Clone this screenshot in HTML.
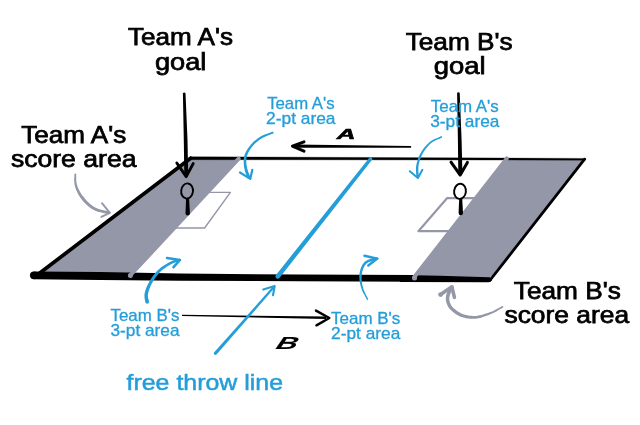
<!DOCTYPE html>
<html>
<head>
<meta charset="utf-8">
<title>Court diagram</title>
<style>
html,body{margin:0;padding:0;background:#fff;}
body{width:640px;height:425px;overflow:hidden;}
svg{display:block;}
text{font-family:"Liberation Sans",sans-serif;}
.k{fill:#000;stroke:#000;stroke-width:.75px;font-size:24.4px;text-anchor:middle;}
.b{fill:#249ed9;stroke:#249ed9;stroke-width:.3px;font-size:15.7px;text-anchor:middle;}
.ft{fill:#249ed9;stroke:#249ed9;stroke-width:.5px;font-size:22px;text-anchor:middle;}
.it{fill:#000;stroke:#000;stroke-width:.5px;font-weight:bold;font-style:italic;text-anchor:middle;}
.ba{fill:none;stroke:#249ed9;stroke-width:2.6;stroke-linecap:round;stroke-linejoin:round;}
.ga{fill:none;stroke:#9497a8;stroke-width:3.4;stroke-linecap:round;stroke-linejoin:round;}
.ka{fill:none;stroke:#000;stroke-width:3.3;stroke-linecap:round;stroke-linejoin:round;}
</style>
</head>
<body>
<svg style="will-change:transform" width="640" height="425" viewBox="0 0 640 425">
<rect width="640" height="425" fill="#ffffff"/>

<!-- goal boxes -->
<polygon points="205,192.4 230.4,192.4 204.6,228 170,228" fill="#fff" stroke="#9497a8" stroke-width="1.4" stroke-linejoin="round"/>
<polygon points="447,198.2 480,198.2 450,231.2 418.4,231.2" fill="#fff" stroke="#9497a8" stroke-width="2.2" stroke-linejoin="round"/>

<!-- bottom line (right part, under grey) -->
<path d="M400,275 L489,275 L491.8,280.6 Q491,282.3 488.5,282.3 L400,281.9 Z" fill="#000"/>

<!-- score areas -->
<polygon points="191,158 238.8,158.3 130.5,275.3 40,274" fill="#9497a8"/>
<polygon points="507,158.5 585,159 492.3,276.3 489.5,277.2 440,275.8 414.5,275.3" fill="#9497a8"/>

<!-- court outline -->
<path d="M190,156.7 L585.2,158.4 Q586.6,159.3 585.2,160.2 L190,159.7 Z" fill="#000" stroke="#000" stroke-width=".3" stroke-linejoin="round"/>
<line x1="190.6" y1="158.2" x2="39.8" y2="273" stroke="#000" stroke-width="3.7" stroke-linecap="round"/>
<line x1="584.6" y1="159.2" x2="490.2" y2="280" stroke="#000" stroke-width="2.8" stroke-linecap="round"/>
<polygon points="33.8,271.4 100,272.1 180,273.6 300,274.6 414,275 414,281.8 300,281.2 180,280.7 100,280 33.8,279.3" fill="#000"/>
<circle cx="33.9" cy="275.35" r="3.95" fill="#000"/>

<!-- grey edge strokes -->
<line x1="238.7" y1="158.6" x2="130.6" y2="275" stroke="#9497a8" stroke-width="4" stroke-linecap="round"/>
<line x1="506.8" y1="158.4" x2="414.2" y2="277.3" stroke="#9497a8" stroke-width="4" stroke-linecap="round"/>

<circle cx="130.4" cy="275.6" r="2.5" fill="#9497a8"/><circle cx="414.5" cy="277.9" r="2.5" fill="#9497a8"/>
<!-- free throw line -->
<path d="M371.9,160.1 A1.75,1.75 0 0 0 369.1,157.9 L275.8,275.2 A2.3,2.3 0 0 0 279.4,278 Z" fill="#249ed9"/>

<!-- goals -->
<ellipse cx="187.1" cy="191" rx="5.9" ry="7.6" fill="none" stroke="#000" stroke-width="1.9" transform="rotate(7 187.1 191)"/>
<path d="M186.1,198.3 L189.1,198.3 L189.9,213.2 A2.2,2.2 0 0 1 185.5,213.2 Z" fill="#000"/>
<ellipse cx="460" cy="191.3" rx="5.9" ry="7.6" fill="#fff" stroke="#000" stroke-width="1.9" transform="rotate(7 460 191.3)"/>
<path d="M459.2,198.6 L462.2,198.6 L463,213 A2.2,2.2 0 0 1 458.6,213 Z" fill="#000"/>

<!-- goal arrows -->
<path d="M182.9,93.2 Q184.2,92 185.5,93.2 L187.5,140 L188.2,175 L184.3,175 L183.8,140 Z" fill="#000"/><path class="ka" style="stroke-width:2.9" d="M176.8,163 L186.2,176.6 L193.2,163.6"/>
<path d="M457.1,92.8 Q458.4,91.6 459.7,92.8 L461.6,140 L462.4,173.5 L458.3,173.5 L457.9,140 Z" fill="#000"/><path class="ka" style="stroke-width:3" d="M451,162.2 L460.2,175 L467.4,162.4"/>

<!-- A / B direction arrows -->
<path d="M410.8,145.9 Q411.8,146.9 410.8,147.8 L294,147.7 L294,144.6 Z" fill="#000"/><path class="ka" style="stroke-width:3" d="M304,141.8 L292.4,146.1 L304,151.2"/>
<path d="M182,314.7 L326,316.6 L326,319 L182,316 Z" fill="#000"/>
<path class="ka" style="stroke-width:2.5" d="M316,310.6 L329.3,318 L316.5,325.3"/>

<!-- blue curved arrows -->
<path d="M272.4,131.9 L271.1,132.3 L269.3,133.0 L267.1,133.7 L264.8,134.6 L262.5,135.6 L260.5,136.6 L258.7,137.7 L257.0,139.0 L255.4,140.3 L253.8,141.6 L252.4,143.0 L251.0,144.4 L249.8,145.9 L248.6,147.4 L247.6,148.9 L246.7,150.5 L245.8,152.0 L245.1,153.5 L244.6,155.0 L244.2,156.4 L243.9,157.8 L243.8,159.2 L243.7,160.6 L243.7,162.0 L243.7,163.5 L243.8,165.0 L244.0,166.5 L244.3,168.0 L244.6,169.5 L244.9,170.9 L245.3,172.3 L245.8,173.7 L246.4,175.1 L246.9,176.3 L247.3,177.3 L247.6,178.1 L250.4,176.9 L250.1,176.2 L249.6,175.2 L249.1,174.0 L248.6,172.7 L248.1,171.4 L247.7,170.1 L247.3,168.8 L247.0,167.5 L246.8,166.1 L246.5,164.7 L246.4,163.3 L246.3,162.0 L246.3,160.7 L246.4,159.4 L246.5,158.2 L246.7,157.0 L247.0,155.8 L247.5,154.5 L248.1,153.1 L248.8,151.7 L249.6,150.2 L250.6,148.8 L251.6,147.3 L252.8,146.0 L254.0,144.6 L255.3,143.3 L256.8,141.9 L258.3,140.7 L259.9,139.5 L261.5,138.4 L263.4,137.4 L265.5,136.4 L267.8,135.5 L269.9,134.7 L271.7,134.0 L273.0,133.5 Z" fill="#249ed9"/><circle cx="272.7" cy="132.7" r="0.90" fill="#249ed9"/><circle cx="249.0" cy="177.5" r="1.50" fill="#249ed9"/><path class="ba" style="stroke-width:2.2" d="M240,172.5 L250.3,178.9 L252.3,169.8"/>
<path d="M441.1,136.3 L440.0,136.8 L438.4,137.4 L436.6,138.2 L434.6,139.1 L432.7,140.0 L431.0,141.1 L429.5,142.2 L428.1,143.5 L426.8,144.8 L425.5,146.2 L424.3,147.6 L423.2,149.0 L422.2,150.5 L421.3,152.0 L420.4,153.5 L419.6,155.0 L418.9,156.6 L418.3,158.1 L417.7,159.6 L417.3,161.2 L416.8,162.7 L416.5,164.3 L416.2,165.8 L416.0,167.4 L416.0,169.2 L416.0,171.0 L416.1,172.9 L416.2,174.6 L416.3,176.1 L416.4,177.1 L418.8,176.9 L418.8,175.9 L418.6,174.4 L418.5,172.7 L418.4,170.9 L418.3,169.2 L418.4,167.6 L418.5,166.1 L418.7,164.7 L419.0,163.2 L419.4,161.8 L419.8,160.3 L420.3,158.9 L420.9,157.4 L421.5,155.9 L422.2,154.4 L423.0,153.0 L423.8,151.6 L424.8,150.2 L425.8,148.8 L426.9,147.4 L428.1,146.1 L429.3,144.8 L430.6,143.6 L432.0,142.5 L433.5,141.5 L435.3,140.5 L437.2,139.6 L439.0,138.9 L440.6,138.2 L441.7,137.7 Z" fill="#249ed9"/><circle cx="441.4" cy="137.0" r="0.75" fill="#249ed9"/><circle cx="417.6" cy="177.0" r="1.25" fill="#249ed9"/><path class="ba" style="stroke-width:2" d="M409.8,171.2 L417.9,178 L422.4,169.8"/>
<path d="M149.0,301.7 L148.8,300.8 L148.5,299.6 L148.2,298.3 L148.0,296.9 L147.9,295.5 L148.0,294.1 L148.3,292.5 L148.8,290.8 L149.4,288.9 L150.2,287.0 L151.0,285.1 L152.0,283.3 L153.0,281.4 L154.2,279.5 L155.5,277.6 L156.9,275.7 L158.3,273.9 L159.8,272.3 L161.4,270.8 L163.2,269.3 L165.1,267.9 L167.0,266.6 L168.9,265.4 L170.6,264.4 L172.3,263.6 L174.0,262.9 L175.8,262.3 L177.4,261.8 L178.8,261.4 L179.8,261.1 L179.2,258.9 L178.2,259.2 L176.8,259.5 L175.1,260.0 L173.2,260.6 L171.3,261.3 L169.4,262.2 L167.5,263.2 L165.6,264.4 L163.6,265.7 L161.5,267.1 L159.6,268.7 L157.8,270.3 L156.1,272.0 L154.5,273.9 L153.1,275.8 L151.7,277.8 L150.4,279.8 L149.2,281.7 L148.2,283.7 L147.2,285.7 L146.3,287.8 L145.6,289.7 L145.0,291.7 L144.6,293.5 L144.4,295.4 L144.5,297.2 L144.7,298.9 L145.0,300.4 L145.3,301.5 L145.4,302.3 Z" fill="#249ed9"/><circle cx="147.2" cy="302.0" r="1.80" fill="#249ed9"/><circle cx="179.5" cy="260.0" r="1.15" fill="#249ed9"/><path class="ba" style="stroke-width:2.6" d="M167,258 L180,260 L173.5,267.2"/>
<path d="M368.1,298.9 L367.5,297.8 L366.7,296.2 L365.8,294.4 L364.9,292.4 L364.0,290.5 L363.3,288.7 L362.9,287.0 L362.4,285.2 L362.1,283.5 L361.9,281.7 L361.7,280.0 L361.6,278.4 L361.6,277.0 L361.7,275.5 L361.9,274.2 L362.1,272.8 L362.3,271.6 L362.7,270.3 L363.1,269.2 L363.5,268.0 L364.1,266.9 L364.6,265.8 L365.3,264.9 L365.9,264.2 L366.6,263.5 L367.3,263.0 L368.1,262.5 L369.0,262.1 L370.0,261.8 L370.9,261.4 L372.0,261.1 L373.1,260.8 L374.4,260.5 L375.5,260.3 L376.5,260.1 L377.3,260.0 L376.7,257.4 L376.0,257.6 L375.0,257.8 L373.8,258.0 L372.5,258.3 L371.2,258.6 L370.1,259.0 L369.0,259.4 L368.0,259.8 L367.0,260.3 L366.0,260.9 L365.0,261.6 L364.1,262.4 L363.3,263.4 L362.5,264.6 L361.9,265.7 L361.3,267.0 L360.8,268.3 L360.3,269.7 L360.0,271.0 L359.7,272.4 L359.5,273.9 L359.3,275.4 L359.3,276.9 L359.4,278.6 L359.5,280.2 L359.8,282.0 L360.1,283.8 L360.6,285.7 L361.1,287.5 L361.7,289.3 L362.4,291.2 L363.4,293.2 L364.5,295.1 L365.5,296.9 L366.3,298.4 L366.9,299.5 Z" fill="#249ed9"/><circle cx="367.5" cy="299.2" r="0.65" fill="#249ed9"/><circle cx="377.0" cy="258.7" r="1.30" fill="#249ed9"/><path class="ba" style="stroke-width:2.5" d="M364.5,255.7 L377.3,258.6 L368.3,265.4"/>
<path d="M214,352.4 L273.7,285.6 L275.3,287 L216.5,354.6 A1.7,1.7 0 0 1 214,352.4 Z" fill="#249ed9"/><path class="ba" style="stroke-width:2.1" d="M263.3,289.6 L274.7,286 L273,295.2"/>

<!-- grey curved arrows -->
<path d="M74.4,174.5 L74.4,175.5 L74.3,176.9 L74.2,178.6 L74.2,180.5 L74.3,182.4 L74.5,184.2 L74.9,186.0 L75.4,187.7 L76.0,189.5 L76.8,191.2 L77.6,193.0 L78.5,194.7 L79.6,196.5 L80.8,198.2 L82.1,200.0 L83.5,201.7 L85.0,203.3 L86.5,204.7 L87.9,206.0 L89.3,207.1 L90.7,208.2 L92.3,209.2 L93.9,210.1 L95.8,210.9 L98.0,211.7 L100.5,212.3 L103.1,212.9 L105.5,213.4 L107.6,213.8 L109.0,214.1 L109.6,211.5 L108.1,211.2 L106.0,210.8 L103.6,210.3 L101.1,209.7 L98.8,209.0 L96.8,208.3 L95.2,207.5 L93.8,206.7 L92.4,205.8 L91.1,204.8 L89.8,203.7 L88.5,202.5 L87.2,201.2 L85.8,199.7 L84.5,198.1 L83.2,196.5 L81.9,194.9 L80.9,193.3 L79.9,191.7 L79.1,190.1 L78.3,188.5 L77.7,186.9 L77.1,185.3 L76.7,183.8 L76.4,182.2 L76.2,180.4 L76.2,178.6 L76.2,177.0 L76.2,175.6 L76.2,174.5 Z" fill="#9497a8"/><circle cx="75.3" cy="174.5" r="0.90" fill="#9497a8"/><circle cx="109.3" cy="212.8" r="1.30" fill="#9497a8"/><path class="ga" style="stroke-width:1.9" d="M102,203.2 L109.8,212.8 L101.4,216.8"/>
<path d="M502.1,306.2 L501.0,306.8 L499.6,307.6 L497.8,308.5 L495.9,309.6 L494.0,310.5 L492.1,311.4 L490.1,312.1 L488.0,312.9 L485.8,313.6 L483.6,314.3 L481.5,314.9 L479.7,315.3 L478.1,315.6 L476.7,315.9 L475.4,316.0 L474.1,316.0 L472.8,315.9 L471.4,315.8 L469.9,315.7 L468.2,315.4 L466.6,315.1 L465.0,314.7 L463.4,314.3 L461.9,313.7 L460.5,313.0 L458.9,312.1 L457.4,311.2 L456.0,310.1 L454.7,309.1 L453.6,308.2 L452.8,307.3 L452.0,306.4 L451.4,305.5 L450.9,304.7 L450.5,303.8 L450.1,302.9 L449.8,302.0 L449.5,301.1 L449.4,300.3 L449.3,299.4 L449.3,298.6 L449.3,297.7 L449.5,296.8 L449.7,295.7 L450.1,294.7 L450.5,293.6 L450.9,292.6 L451.2,291.7 L451.6,291.0 L452.0,290.4 L452.4,289.8 L452.8,289.2 L453.1,288.7 L453.4,288.3 L450.4,286.3 L450.2,286.6 L449.8,287.1 L449.4,287.7 L448.9,288.5 L448.4,289.3 L448.0,290.3 L447.6,291.3 L447.1,292.4 L446.7,293.5 L446.3,294.8 L446.0,296.1 L445.9,297.3 L445.8,298.5 L445.8,299.7 L446.0,300.8 L446.2,301.9 L446.5,303.0 L446.9,304.1 L447.4,305.2 L447.9,306.3 L448.6,307.4 L449.4,308.5 L450.3,309.6 L451.4,310.6 L452.6,311.7 L454.0,312.8 L455.6,313.9 L457.3,315.0 L459.0,315.9 L460.7,316.7 L462.4,317.3 L464.2,317.8 L466.0,318.2 L467.8,318.5 L469.5,318.7 L471.2,318.8 L472.7,318.8 L474.2,318.8 L475.6,318.7 L477.1,318.6 L478.6,318.3 L480.3,317.9 L482.2,317.3 L484.3,316.6 L486.6,315.8 L488.8,315.0 L490.9,314.1 L492.9,313.2 L494.9,312.3 L496.8,311.2 L498.7,310.1 L500.4,309.1 L501.9,308.2 L502.9,307.6 Z" fill="#9497a8"/><circle cx="502.5" cy="306.9" r="0.80" fill="#9497a8"/><circle cx="451.9" cy="287.3" r="1.80" fill="#9497a8"/><path class="ga" style="stroke-width:3.6" d="M440.6,294.6 L451.9,286.8 L454.4,297.3"/><circle cx="440.6" cy="294.6" r="2.4" fill="#9497a8"/>

<!-- labels -->
<text class="k" x="180.5" y="45.4" textLength="105" lengthAdjust="spacingAndGlyphs">Team A's</text>
<text class="k" x="180.7" y="70" textLength="51.5" lengthAdjust="spacingAndGlyphs">goal</text>
<text class="k" x="459.2" y="50" textLength="107" lengthAdjust="spacingAndGlyphs">Team B's</text>
<text class="k" x="459.7" y="74" textLength="52" lengthAdjust="spacingAndGlyphs">goal</text>
<text class="k" x="73.8" y="142.5" textLength="105" lengthAdjust="spacingAndGlyphs">Team A's</text>
<text class="k" x="73.7" y="166.9" textLength="125.5" lengthAdjust="spacingAndGlyphs">score area</text>
<text class="k" x="567.3" y="299" textLength="107" lengthAdjust="spacingAndGlyphs">Team B's</text>
<text class="k" x="566.8" y="323.2" textLength="124.7" lengthAdjust="spacingAndGlyphs">score area</text>

<text class="b" x="300.9" y="109.2" textLength="67.4" lengthAdjust="spacingAndGlyphs">Team A's</text>
<text class="b" x="300.8" y="124" textLength="69.4" lengthAdjust="spacingAndGlyphs">2-pt area</text>
<text class="b" x="464.8" y="112" textLength="68" lengthAdjust="spacingAndGlyphs">Team A's</text>
<text class="b" x="464.8" y="127.4" textLength="69.2" lengthAdjust="spacingAndGlyphs">3-pt area</text>
<text class="b" x="145" y="320.7" textLength="69" lengthAdjust="spacingAndGlyphs">Team B's</text>
<text class="b" x="145" y="335.6" textLength="69" lengthAdjust="spacingAndGlyphs">3-pt area</text>
<text class="b" x="365.7" y="323.8" textLength="69.2" lengthAdjust="spacingAndGlyphs">Team B's</text>
<text class="b" x="365.7" y="338.8" textLength="69.2" lengthAdjust="spacingAndGlyphs">2-pt area</text>
<text class="ft" x="204.8" y="389.7" textLength="156.5" lengthAdjust="spacingAndGlyphs">free throw line</text>

<text class="it" font-size="14" transform="translate(346,138.5) scale(1.85,1)" x="0" y="0">A</text>
<text class="it" style="stroke-width:.1px" font-size="17.5" transform="translate(285.6,348.5) scale(1.68,1) skewX(-12)" x="0" y="0">B</text>
</svg>
</body>
</html>
